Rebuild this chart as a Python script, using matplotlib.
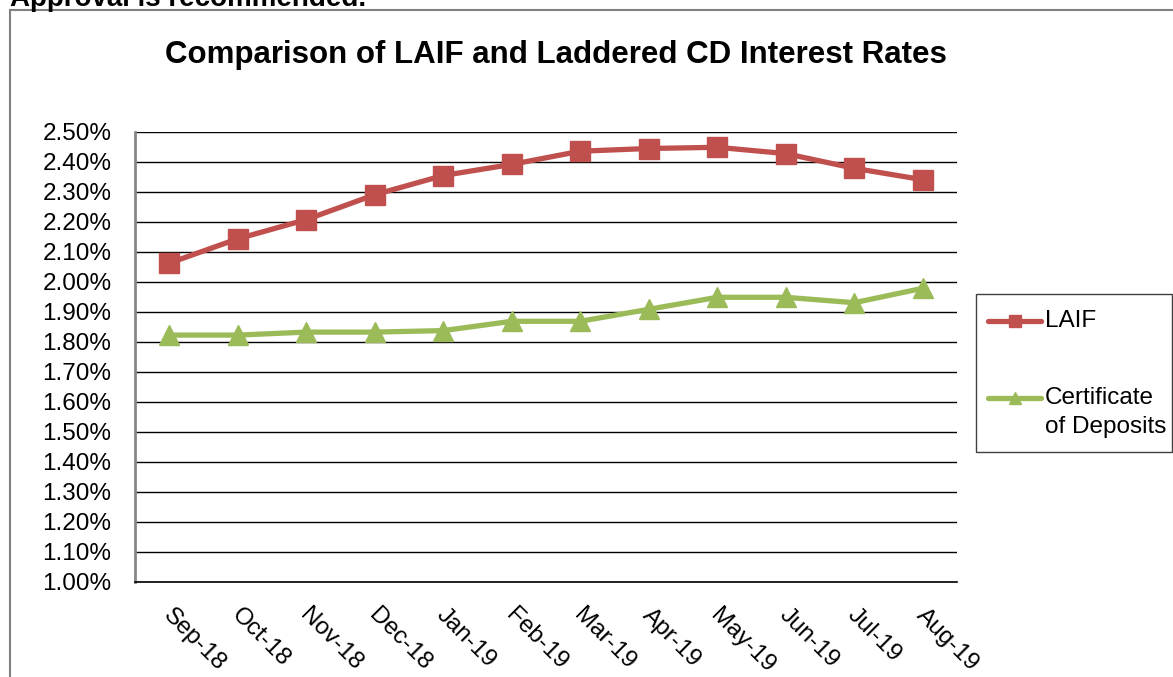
import matplotlib.pyplot as plt
import matplotlib.transforms as mtransforms
from matplotlib.lines import Line2D
from matplotlib.patches import Rectangle
from matplotlib.ticker import FuncFormatter, MultipleLocator

plt.rcParams['font.family'] = ['Liberation Sans', 'DejaVu Sans']

months = ["Sep-18", "Oct-18", "Nov-18", "Dec-18", "Jan-19", "Feb-19",
          "Mar-19", "Apr-19", "May-19", "Jun-19", "Jul-19", "Aug-19"]
laif = [2.063, 2.144, 2.208, 2.291, 2.355, 2.392, 2.436, 2.445, 2.449, 2.428, 2.379, 2.341]
cds = [1.823, 1.823, 1.833, 1.833, 1.838, 1.869, 1.869, 1.909, 1.949, 1.949, 1.931, 1.979]

RED = "#C0504D"
GREEN = "#9BBB59"

W, H = 1173, 677
fig = plt.figure(figsize=(W / 100, H / 100), dpi=100)


def fx(px):
    return px / W


def fy(py):
    return 1 - py / H


# surrounding chart frame (runs off the right and bottom edges)
fig.add_artist(Rectangle((fx(10), fy(700)), fx(1200), fy(10) - fy(700),
                         transform=fig.transFigure, fill=False,
                         edgecolor="#808080", linewidth=1.5))

# heading of the page above, clipped by the top edge
fig.text(fx(10), fy(6), "Approval is recommended.", fontsize=20,
         fontweight="bold", va="baseline", ha="left")

fig.text(fx(556), fy(55), "Comparison of LAIF and Laddered CD Interest Rates",
         fontsize=22.5, fontweight="bold", ha="center", va="center")

ax = fig.add_axes([fx(135), fy(582), fx(957) - fx(135), fy(132) - fy(582)])
x = list(range(len(months)))
ax.plot(x, laif, color=RED, linewidth=3.8, marker="s", markersize=14,
        markeredgecolor=RED, zorder=3)
ax.plot(x, cds, color=GREEN, linewidth=3.8, marker="^", markersize=15,
        markeredgecolor=GREEN, zorder=3)

ax.set_xlim(-0.5, len(months) - 0.5)
ax.set_ylim(1.0, 2.5)
ax.yaxis.set_major_locator(MultipleLocator(0.1))
ax.yaxis.set_major_formatter(FuncFormatter(lambda v, p: f"{v:.2f}%"))
ax.grid(axis="y", color="black", linewidth=1.0)
ax.set_axisbelow(True)
ax.tick_params(axis="y", length=0, pad=17, labelsize=17.5)
ax.tick_params(axis="x", length=0)
ax.set_xticks(x)
ax.set_xticklabels([])
for side in ("top", "right"):
    ax.spines[side].set_visible(False)
ax.spines["left"].set_color("#888888")
ax.spines["left"].set_linewidth(2)
ax.spines["bottom"].set_color("black")
ax.spines["bottom"].set_linewidth(1.2)

# rotated month labels under each category
lbl_tr = mtransforms.offset_copy(ax.get_xaxis_transform(), fig=fig,
                                 x=-3, y=-30, units="dots")
for i, m in enumerate(months):
    ax.text(i, 0, m, transform=lbl_tr, rotation=-45, rotation_mode="anchor",
            ha="left", va="center", fontsize=17.5)

# legend box at the right
fig.add_artist(Rectangle((fx(976), fy(452)), fx(1172) - fx(976), fy(294) - fy(452),
                         transform=fig.transFigure, fill=False,
                         edgecolor="#404040", linewidth=1.0))
fig.add_artist(Line2D([fx(988), fx(1014.5), fx(1041)], [fy(321)] * 3, color=RED,
                      linewidth=3.8, marker="s", markersize=8, markevery=[1],
                      transform=fig.transFigure, solid_capstyle="round"))
fig.add_artist(Line2D([fx(988), fx(1014.5), fx(1041)], [fy(398)] * 3, color=GREEN,
                      linewidth=3.8, marker="^", markersize=9, markevery=[1],
                      transform=fig.transFigure, solid_capstyle="round"))
fig.text(fx(1045), fy(321), "LAIF", fontsize=17.5, va="center", ha="left")
fig.text(fx(1045), fy(398), "Certificate", fontsize=17.5, va="center", ha="left")
fig.text(fx(1045), fy(427), "of Deposits", fontsize=17.5, va="center", ha="left")

fig.savefig("out.png", dpi=100)
